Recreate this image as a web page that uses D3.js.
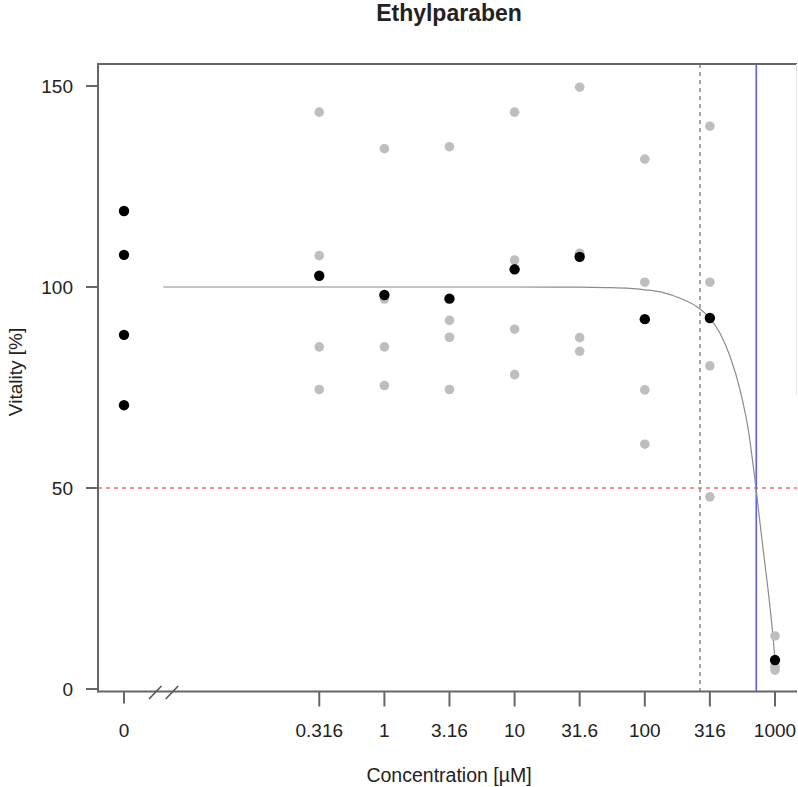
<!DOCTYPE html>
<html>
<head>
<meta charset="utf-8">
<script src="https://cdn.jsdelivr.net/npm/d3@7"></script>
<style>
	body { margin: 0; background: #fff; }
	text { font-family: "Liberation Sans", Arial, sans-serif; fill: #222; }
</style>
</head>
<body>
<svg width="798" height="787"></svg>
<script>
// concentrations (µM), 0 = control, drawn at zeroPos on the log axis
var conc = [0, 0.316, 1, 3.16, 10, 31.6, 100, 316, 1000],
		concLabels = ["0", "0.316", "1", "3.16", "10", "31.6", "100", "316", "1000"],
		zeroPos = 0.01;

// single replicates (grey) per concentration, controls have none
var replicates = [
	[],
	[143.5, 107.8, 85.1, 74.5],
	[134.4, 97.0, 85.1, 75.5],
	[134.9, 91.7, 87.5, 74.5],
	[143.5, 106.7, 89.5, 78.2],
	[149.7, 108.4, 87.4, 84.0],
	[131.8, 101.2, 74.4, 60.9],
	[140.0, 101.2, 80.4, 47.8],
	[13.2, 5.7, 5.2, 4.7]
];
// black points: control wells and means per concentration
var controls = [118.9, 108.0, 88.1, 70.6],
		means = [null, 102.8, 98.0, 97.1, 104.4, 107.5, 92.0, 92.3, 7.2];

// fitted curve
var fitConc = [0.02, 1, 10, 31.6, 50, 77, 100, 139, 187, 251, 317, 378, 452, 539, 624, 714, 795, 904, 960, 1000],
		fitVit = [100, 100, 100, 99.95, 99.85, 99.65, 99.3, 98.6, 97.2, 95.1, 92.2, 88.5, 82.7, 74.4, 64.4, 50, 37, 22, 13.9, 7.2];

var yTicks = [0, 50, 100, 150],
		ec50 = 718, noec = 265.6, halfLine = 50;

var svg = d3.select("svg"),
		pLeft = 98, pRight = 797, pTop = 64, pBottom = 691.5;

var x = d3.scaleLog().domain([zeroPos, 1000]).range([124, 775]),
		y = d3.scaleLinear().domain([0, 150]).range([689, 86]);
function xc(c) { return x(c === 0 ? zeroPos : c); }

svg.append("text")
	 .attr("x", 449)
	 .attr("y", 21)
	 .attr("text-anchor", "middle")
	 .attr("font-size", "23px")
	 .attr("font-weight", "bold")
	 .text("Ethylparaben");

// reference lines
svg.append("line")
	 .attr("x1", pLeft).attr("x2", pRight)
	 .attr("y1", y(halfLine)).attr("y2", y(halfLine))
	 .attr("stroke", "#ff6b6b").attr("stroke-width", 1.5)
	 .attr("stroke-dasharray", "4,4");
svg.append("line")
	 .attr("x1", x(noec)).attr("x2", x(noec))
	 .attr("y1", pTop).attr("y2", pBottom)
	 .attr("stroke", "#888").attr("stroke-width", 1.5)
	 .attr("stroke-dasharray", "4,4");
svg.append("line")
	 .attr("x1", x(ec50)).attr("x2", x(ec50))
	 .attr("y1", pTop).attr("y2", pBottom)
	 .attr("stroke", "#5a5aff").attr("stroke-width", 1.6);

// fitted curve
var line = d3.line()
	 .x(function(d) { return x(d[0]); })
	 .y(function(d) { return y(d[1]); })
	 .curve(d3.curveMonotoneX);
svg.append("path")
	 .datum(fitConc.map(function(c, i) { return [c, fitVit[i]]; }))
	 .attr("d", line)
	 .attr("fill", "none")
	 .attr("stroke", "#8c8c8c")
	 .attr("stroke-width", 1.2);

// grey replicates
var reps = [];
replicates.forEach(function(r, i) {
	r.forEach(function(v) { reps.push({c: conc[i], v: v}); });
});
svg.selectAll(".rep")
	 .data(reps)
	 .enter().append("circle")
	 .attr("class", "rep")
	 .attr("cx", function(d) { return xc(d.c); })
	 .attr("cy", function(d) { return y(d.v); })
	 .attr("r", 4.8)
	 .attr("fill", "#bebebe");

// black points
var blacks = controls.map(function(v) { return {c: 0, v: v}; });
means.forEach(function(v, i) { if (v !== null) blacks.push({c: conc[i], v: v}); });
svg.selectAll(".mean")
	 .data(blacks)
	 .enter().append("circle")
	 .attr("class", "mean")
	 .attr("cx", function(d) { return xc(d.c); })
	 .attr("cy", function(d) { return y(d.v); })
	 .attr("r", 5.2)
	 .attr("fill", "#000");

// box (right side is faint in the original)
var bx = svg.append("g").attr("stroke", "#666").attr("stroke-width", 2);
bx.append("line").attr("x1", pLeft).attr("x2", pRight).attr("y1", pTop).attr("y2", pTop);
bx.append("line").attr("x1", pLeft).attr("x2", pRight).attr("y1", pBottom).attr("y2", pBottom);
bx.append("line").attr("x1", pLeft).attr("x2", pLeft).attr("y1", pTop - 1).attr("y2", pBottom + 1);
svg.append("line")
	 .attr("x1", pRight - 0.5).attr("x2", pRight - 0.5).attr("y1", pTop).attr("y2", 395)
	 .attr("stroke", "#e4e4e4").attr("stroke-width", 1);

// y axis
var ya = svg.append("g");
yTicks.forEach(function(t) {
	ya.append("line")
		.attr("x1", pLeft - 12).attr("x2", pLeft)
		.attr("y1", y(t)).attr("y2", y(t))
		.attr("stroke", "#666").attr("stroke-width", 2);
	ya.append("text")
		.attr("x", 73).attr("y", y(t) + 6.8)
		.attr("text-anchor", "end")
		.attr("font-size", "19px")
		.text(t);
});

// x axis
var xa = svg.append("g");
conc.forEach(function(c, i) {
	xa.append("line")
		.attr("x1", xc(c)).attr("x2", xc(c))
		.attr("y1", pBottom).attr("y2", pBottom + (c === 0 ? 12 : 15))
		.attr("stroke", "#666").attr("stroke-width", 2);
	xa.append("text")
		.attr("x", xc(c)).attr("y", 737)
		.attr("text-anchor", "middle")
		.attr("font-size", "19px")
		.text(concLabels[i]);
});

// axis break
[149, 165.7].forEach(function(bxp) {
	xa.append("line")
		.attr("x1", bxp).attr("y1", pBottom + 7.5)
		.attr("x2", bxp + 12.5).attr("y2", pBottom - 5.5)
		.attr("stroke", "#555").attr("stroke-width", 1.6);
});

svg.append("text")
	 .attr("x", 449)
	 .attr("y", 782)
	 .attr("text-anchor", "middle")
	 .attr("font-size", "19.5px")
	 .text("Concentration [µM]");

svg.append("text")
	 .attr("transform", "translate(22,372) rotate(-90)")
	 .attr("text-anchor", "middle")
	 .attr("font-size", "19px")
	 .text("Vitality [%]");
</script>
</body>
</html>
